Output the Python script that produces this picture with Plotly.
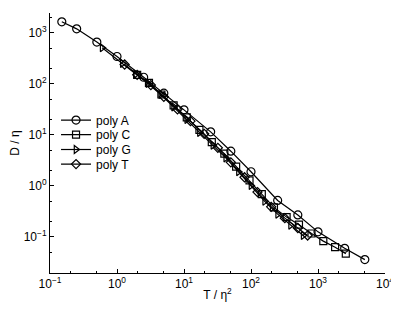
import plotly.graph_objects as go

# poly A
tA = [0.15, 0.25, 0.5, 1, 2.5, 5, 10, 25, 50, 100, 250, 500, 1000, 2500, 5000]
dA = [1650, 1200, 660, 345, 135, 66, 31, 11.5, 4.8, 1.9, 0.52, 0.27, 0.126, 0.06, 0.036]
# poly C
tC = [2, 3, 4.6, 7, 11, 17, 26, 40, 60, 95, 145, 220, 340, 520, 800, 1200, 1800, 2600]
dC = [151, 105, 62, 38, 22, 12.6, 7.2, 4.3, 2.4, 1.29, 0.69, 0.38, 0.245, 0.174, 0.117, 0.083, 0.063, 0.047]
# poly G
tG = [0.6, 1.2, 1.9, 2.9, 4.5, 7, 11, 17, 27, 42, 65, 100, 160, 250, 390, 600]
dG = [513, 251, 155, 102, 62, 35.5, 20, 11.2, 6.3, 3.55, 1.9, 1.02, 0.50, 0.28, 0.17, 0.107]
# poly T
tT = [1.3, 2, 3.2, 5, 8, 12.5, 20, 32, 50, 80, 125, 200, 320, 500, 700]
dT = [240, 151, 95, 56, 31.6, 18.6, 10.5, 5.6, 2.9, 1.48, 0.76, 0.39, 0.234, 0.15, 0.107]

names = ["poly A", "poly C", "poly G", "poly T"]
symbols = ["circle-open", "square-open", "triangle-right-open", "diamond-open"]
msizes = [8, 7, 7, 7]
data = [(tA, dA), (tC, dC), (tG, dG), (tT, dT)]
legend_ids = ["legend", "legend2", "legend3", "legend4"]
legend_y = [0.588, 0.532, 0.475, 0.419]

x_tickvals = [0.1, 1, 10, 100, 1000, 10000]
x_ticktext = ["10<sup>−1</sup>", "10<sup>0</sup>", "10<sup>1</sup>", "10<sup>2</sup>", "10<sup>3</sup>", "10<sup>4</sup>"]
y_tickvals = [0.1, 1, 10, 100, 1000]
y_ticktext = ["10<sup>−1</sup>", "10<sup>0</sup>", "10<sup>1</sup>", "10<sup>2</sup>", "10<sup>3</sup>"]

fig = go.Figure()
for (t, d), n, s, ms, lg in zip(data, names, symbols, msizes, legend_ids):
    fig.add_trace(go.Scatter(
        x=t, y=d, name=n, mode="lines+markers", legend=lg,
        line=dict(color="black", width=1.2),
        marker=dict(symbol=s, size=ms, color="black", line=dict(width=1.2, color="black")),
    ))

FAM = "Liberation Sans, Arial, sans-serif"
font = dict(family=FAM, size=12, color="black")
axis_common = dict(
    type="log", showgrid=False, zeroline=False, automargin=False,
    showline=True, linecolor="black", linewidth=1, ticks="inside", ticklen=4,
    tickcolor="black", mirror=False, tickfont=font,
    minor=dict(ticks="inside", ticklen=2, tickcolor="black", showgrid=False),
)

legends = {}
for lg, yy in zip(legend_ids, legend_y):
    legends[lg] = dict(x=0.018, y=yy, xanchor="left", yanchor="middle",
                       bgcolor="rgba(0,0,0,0)", font=dict(size=12, family=FAM, color="black"),
                       itemwidth=30, borderwidth=0)

# the page body has an 8px margin, so margins are shifted to place the plot area
fig.update_layout(
    width=399, height=314,
    margin=dict(l=42, r=22, t=5, b=49),
    paper_bgcolor="white", plot_bgcolor="white",
    font=font,
    showlegend=True,
    xaxis=dict(axis_common, range=[-1, 4], tickvals=x_tickvals, ticktext=x_ticktext,
               title=dict(text="T / η<sup>2</sup>", font=font, standoff=0)),
    yaxis=dict(axis_common, range=[-1.706, 3.39], tickvals=y_tickvals, ticktext=y_ticktext,
               title=dict(text="D / η", font=font, standoff=10)),
    **legends,
)
fig.write_html("out.html")
